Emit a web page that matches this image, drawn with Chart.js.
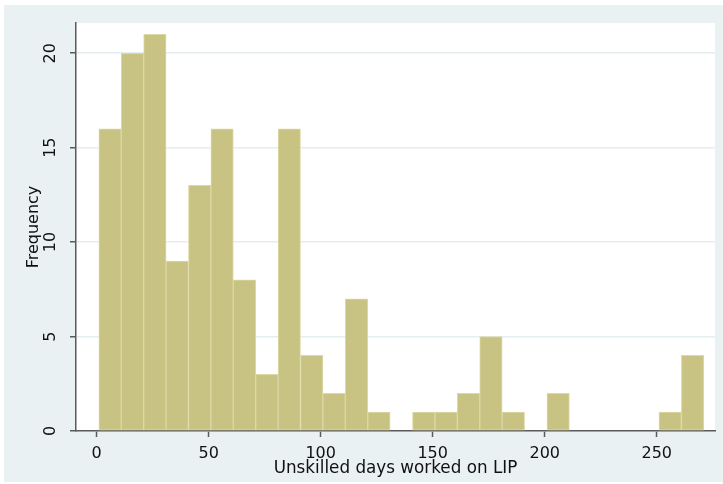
<!DOCTYPE html>
<html>
<head>
<meta charset="utf-8">
<script src="https://cdn.jsdelivr.net/npm/chart.js@4"></script>
<style>
  html, body { margin: 0; padding: 0; background: #ffffff; }
  #wrap { width: 723px; height: 484px; }
</style>
</head>
<body>
<div id="wrap"><canvas id="hist" width="723" height="484"></canvas></div>
<script>
// Histogram of unskilled days worked (bins 10 days wide)
const binCenters = [6, 16, 26, 36, 46, 56, 66, 76, 86, 96, 106, 116, 126, 136,
                    146, 156, 166, 176, 186, 196, 206, 216, 226, 236, 246, 256, 266];
const frequencies = [16, 20, 21, 9, 13, 16, 8, 3, 16, 4, 2, 7, 1, 0,
                     1, 1, 2, 5, 1, 0, 2, 0, 0, 0, 0, 1, 4];
const xTickValues = [0, 50, 100, 150, 200, 250];
const yTickValues = [0, 5, 10, 15, 20];

const FRAME = '#EAF1F3';
const GRID = '#E4EDF0';
const AXIS = '#5a5a5a';
const FONT = '"DejaVu Sans", sans-serif';

const backgroundPlugin = {
  id: 'panels',
  beforeDraw(chart) {
    const { ctx, chartArea } = chart;
    ctx.save();
    ctx.fillStyle = FRAME;
    ctx.fillRect(4, 5, chart.width - 4, 477);
    ctx.fillStyle = '#ffffff';
    ctx.fillRect(chartArea.left, chartArea.top,
                 chartArea.right - chartArea.left, chartArea.bottom - chartArea.top);
    ctx.restore();
  }
};

new Chart(document.getElementById('hist'), {
  type: 'bar',
  data: {
    datasets: [{
      data: binCenters.map((x, i) => ({ x: x, y: frequencies[i] })),
      backgroundColor: 'rgb(201,195,131)',
      borderColor: 'rgb(221,217,165)',
      borderWidth: 1,
      borderSkipped: false,
      barPercentage: 1,
      categoryPercentage: 1
    }]
  },
  options: {
    responsive: false,
    animation: false,
    layout: { padding: { left: 0, top: 23, right: 8, bottom: 0 } },
    plugins: {
      legend: { display: false },
      tooltip: { enabled: false }
    },
    scales: {
      x: {
        type: 'linear',
        offset: false,
        min: -9.2,
        max: 276,
        afterBuildTicks(scale) { scale.ticks = xTickValues.map(v => ({ value: v })); },
        afterFit(scale) { scale.height = 53; },
        grid: {
          offset: false,
          drawOnChartArea: false,
          tickLength: 6,
          tickColor: AXIS,
          tickWidth: 1.5
        },
        border: { color: AXIS, width: 1.5 },
        ticks: {
          padding: 7,
          maxRotation: 0,
          color: '#111',
          font: { family: FONT, size: 16 }
        },
        title: {
          display: true,
          text: 'Unskilled days worked on LIP',
          color: '#111',
          font: { family: FONT, size: 16.8 },
          padding: { top: 0, bottom: 5 }
        }
      },
      y: {
        min: 0,
        max: 21.6,
        afterBuildTicks(scale) { scale.ticks = yTickValues.map(v => ({ value: v })); },
        afterFit(scale) { scale.width = 76; },
        grid: {
          color: GRID,
          lineWidth: 1.5,
          tickLength: 6,
          tickColor: AXIS,
          tickWidth: 1.5
        },
        border: { color: AXIS, width: 1.5 },
        ticks: {
          minRotation: 90,
          maxRotation: 90,
          crossAlign: 'center',
          padding: 9,
          color: '#111',
          font: { family: FONT, size: 16 }
        },
        title: {
          display: true,
          text: 'Frequency',
          color: '#111',
          font: { family: FONT, size: 16 },
          padding: { top: 24, bottom: 0 }
        }
      }
    }
  },
  plugins: [backgroundPlugin]
});
</script>
</body>
</html>
